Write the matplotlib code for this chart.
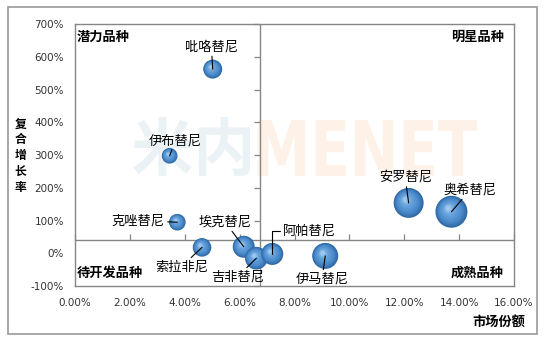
import numpy as np
import matplotlib
matplotlib.use("Agg")
import matplotlib.pyplot as plt
from matplotlib.transforms import offset_copy, Affine2D
from matplotlib.textpath import TextPath
from matplotlib.patches import PathPatch, Rectangle
from matplotlib.font_manager import FontProperties
from matplotlib.colors import to_rgb

# ---------------- data ----------------
drugs = ["吡咯替尼", "伊布替尼", "克唑替尼", "索拉非尼", "埃克替尼",
         "吉非替尼", "阿帕替尼", "伊马替尼", "安罗替尼", "奥希替尼"]
market_share = [5.02, 3.45, 3.73, 4.63, 6.15, 6.61, 7.19, 9.12, 12.16, 13.72]   # %
cagr = [563, 298, 95, 18, 20, -15, -2, -8, 154, 127]                            # %
bubble_size = [90, 61, 69, 86, 121, 128, 121, 169, 225, 256]
x_cross = 6.75
y_cross = 40
xticks = [0, 2, 4, 6, 8, 10, 12, 14, 16]
xtick_labels = ["0.00%", "2.00%", "4.00%", "6.00%", "8.00%", "10.00%", "12.00%", "14.00%", "16.00%"]
yticks = [-100, 0, 100, 200, 300, 400, 500, 600, 700]
ytick_labels = ["-100%", "0%", "100%", "200%", "300%", "400%", "500%", "600%", "700%"]
quadrants = ["潜力品种", "明星品种", "待开发品种", "成熟品种"]
xlabel = "市场份额"
ylabel = "复合增长率"

# label offsets (points, styling)
label_offsets = [(-1, 16), (4, 11), (-28, 1), (-15, -14), (-13.5, 17.8),
                 (-13.7, -13.5), (27, 16.8), (-2.3, -16.6), (-2.5, 18.3), (13.3, 15.6)]

CJK = ["Noto Sans CJK SC", "DejaVu Sans"]
W, H = 546, 343
fig = plt.figure(figsize=(W / 100, H / 100), dpi=100)
fig.patch.set_facecolor("white")

L, R, T, B = 75, 514, 24.3, 286
ax = fig.add_axes([L / W, 1 - B / H, (R - L) / W, (B - T) / H])
ax.set_xlim(0, 16)
ax.set_ylim(-100, 700)
ax.patch.set_alpha(0)

grey = "#868686"
for s in ax.spines.values():
    s.set_color(grey)
    s.set_linewidth(1)

ax.set_xticks(xticks)
ax.set_xticklabels(xtick_labels)
ax.set_yticks(yticks)
ax.set_yticklabels(ytick_labels)
ax.tick_params(axis="both", length=0, labelsize=7.5, colors="#333333")
ax.tick_params(axis="x", pad=9)
ax.tick_params(axis="y", pad=8)
for lab in ax.get_xticklabels() + ax.get_yticklabels():
    lab.set_family("DejaVu Sans")

# watermark
def fit_text(text, family, box, color, weight="bold"):
    x0, y0, x1, y1 = box  # pixel coords (top-left origin)
    tp = TextPath((0, 0), text, size=1, prop=FontProperties(family=family, weight=weight))
    ext = tp.get_extents()
    ax0 = (x0 - L) / (R - L)
    ax1 = (x1 - L) / (R - L)
    ay0 = (B - y1) / (B - T)
    ay1 = (B - y0) / (B - T)
    tr = Affine2D().translate(-ext.x0, -ext.y0).scale((ax1 - ax0) / ext.width,
                                                      (ay1 - ay0) / ext.height).translate(ax0, ay0)
    p = PathPatch(tr.transform_path(tp), facecolor=color, edgecolor="none",
                  transform=ax.transAxes, zorder=0.5)
    ax.add_patch(p)

fit_text("米内", "Noto Sans CJK SC", (133, 117, 250, 176), "#ebf2f5")
fit_text("MENET", "DejaVu Sans", (258, 120, 477, 176), "#fef1e8")

# cross lines
ax.axvline(x_cross, color=grey, lw=1, zorder=1.5)
ax.axhline(y_cross, color=grey, lw=1, zorder=1.5)
ax.plot([x_cross] * len(yticks), yticks, ls="none", marker=0, ms=4, mew=0.9,
        color=grey, clip_on=False, zorder=1.6)
ax.plot(xticks, [y_cross] * len(xticks), ls="none", marker=2, ms=4, mew=0.9,
        color=grey, clip_on=False, zorder=1.6)

# bubbles with 3D-like gradient
stops = [(0.0, to_rgb("#2f69a3")), (0.3, to_rgb("#4a8acb")), (0.75, to_rgb("#6aa5dd")),
         (1.0, to_rgb("#9cc8ee"))]

def grad(t):
    for (t0, c0), (t1, c1) in zip(stops[:-1], stops[1:]):
        if t <= t1:
            f = (t - t0) / (t1 - t0)
            return tuple(np.array(c0) * (1 - f) + np.array(c1) * f)
    return stops[-1][1]

n_layers = 16
for i, (x, y, v) in enumerate(zip(market_share, cagr, bubble_size)):
    s_out = 2.07 * v
    r_pt = np.sqrt(s_out) / 2
    for k in range(n_layers):
        t = k / (n_layers - 1)
        scale = 1 - 0.85 * t
        tr = offset_copy(ax.transData, fig=fig, x=-0.2 * r_pt * t, y=0.22 * r_pt * t, units="points")
        ax.scatter([x], [y], s=s_out * scale ** 2, color=grad(t), edgecolors="none",
                   transform=tr, zorder=3 + i + k / 100.0)

# labels with leader lines
for i, (name, x, y, off) in enumerate(zip(drugs, market_share, cagr, label_offsets)):
    if name == "阿帕替尼":
        ax.annotate(name, xy=(x, y), xytext=off, textcoords="offset points",
                    ha="center", va="center", fontsize=9.5, family=CJK,
                    arrowprops=dict(arrowstyle="-", color="black", lw=0.8, shrinkA=0, shrinkB=0,
                                    relpos=(0, 0.5),
                                    connectionstyle="angle,angleA=0,angleB=90,rad=0"),
                    zorder=30)
    else:
        ax.annotate(name, xy=(x, y), xytext=off, textcoords="offset points",
                    ha="center", va="center", fontsize=9.5, family=CJK,
                    arrowprops=dict(arrowstyle="-", color="black", lw=0.8, shrinkA=0, shrinkB=0),
                    zorder=30)

# quadrant labels
qkw = dict(fontsize=9.5, fontweight="bold", family=CJK, transform=ax.transAxes, va="center", zorder=30)
ax.text((77 - L) / (R - L), (B - 36.7) / (B - T), quadrants[0], ha="left", **qkw)
ax.text((504 - L) / (R - L), (B - 36.7) / (B - T), quadrants[1], ha="right", **qkw)
ax.text((77 - L) / (R - L), (B - 273) / (B - T), quadrants[2], ha="left", **qkw)
ax.text((504 - L) / (R - L), (B - 272.7) / (B - T), quadrants[3], ha="right", **qkw)

# axis titles
fig.text(525 / W, 1 - 321.7 / H, xlabel, ha="right", va="center", fontsize=9.5,
         fontweight="bold", family=CJK)
ys = [124, 140, 155.5, 171, 187]
for ch, yp in zip(ylabel, ys):
    fig.text(20.5 / W, 1 - yp / H, ch, ha="center", va="center", fontsize=8.5,
             fontweight="bold", family=CJK)

# outer border
fig.add_artist(Rectangle((8 / W, 1 - 334 / H), 529 / W, 327 / H, transform=fig.transFigure,
                         facecolor="none", edgecolor="#9a9a9a", lw=1.2))

fig.savefig("out.png", dpi=100)
